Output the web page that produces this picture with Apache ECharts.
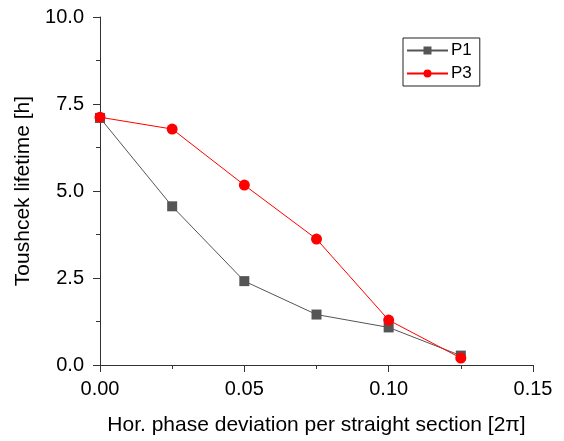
<!DOCTYPE html>
<html><head><meta charset="utf-8">
<script src="https://cdn.jsdelivr.net/npm/echarts@6/dist/echarts.min.js"></script>
<style>html,body{margin:0;padding:0;background:#fff}#c{width:564px;height:441px}</style>
</head><body><div id="c"></div>
<script>
const xValues = [0, 0.025, 0.05, 0.075, 0.1, 0.125];
const p1 = [7.1, 4.56, 2.41, 1.45, 1.08, 0.27];
const p3 = [7.12, 6.78, 5.17, 3.62, 1.29, 0.2];
const seriesNames = ['P1', 'P3'];
const xName = 'Hor. phase deviation per straight section [2π]';
const yName = 'Toushcek lifetime [h]';

const font = 'Liberation Sans, Arial, Helvetica, sans-serif';
const chart = echarts.init(document.getElementById('c'), null, {renderer: 'canvas'});
chart.setOption({
  animation: false,
  backgroundColor: '#fff',
  grid: {left: 100, right: 31, top: 17, bottom: 75, containLabel: false},
  legend: {
    left: 403, top: 38, orient: 'vertical',
    itemWidth: 41, itemHeight: 10, itemGap: 6,
    padding: [4, 8, 4, 3],
    borderColor: '#222', borderWidth: 1,
    textStyle: {fontFamily: font, fontSize: 17, color: '#000', padding: [0,0,0,-2]},
    data: seriesNames
  },
  xAxis: {
    type: 'value', min: 0, max: 0.15, interval: 0.05,
    name: xName, nameLocation: 'middle', nameGap: 50,
    nameTextStyle: {fontFamily: font, fontSize: 21, color: '#000'},
    axisLine: {show: true, onZero: false, lineStyle: {color: '#333', width: 1}},
    axisTick: {show: true, inside: false, length: 7, lineStyle: {color: '#333'}},
    minorTick: {show: true, splitNumber: 2, length: 4, lineStyle: {color: '#333'}},
    splitLine: {show: false},
    axisLabel: {fontFamily: font, fontSize: 20, color: '#000', margin: 14,
      formatter: v => v.toFixed(2)}
  },
  yAxis: {
    type: 'value', min: 0, max: 10, interval: 2.5,
    name: yName, nameLocation: 'middle', nameGap: 62, nameRotate: 90,
    nameTextStyle: {fontFamily: font, fontSize: 21, color: '#000'},
    axisLine: {show: true, onZero: false, lineStyle: {color: '#333', width: 1}},
    axisTick: {show: true, inside: false, length: 7, lineStyle: {color: '#333'}},
    minorTick: {show: true, splitNumber: 2, length: 4, lineStyle: {color: '#333'}},
    splitLine: {show: false},
    axisLabel: {fontFamily: font, fontSize: 20, color: '#000', margin: 16,
      formatter: v => v.toFixed(1)}
  },
  series: [
    {
      name: seriesNames[0], type: 'line',
      data: xValues.map((x, i) => [x, p1[i]]),
      symbol: 'rect', symbolSize: 10,
      itemStyle: {color: '#555'},
      lineStyle: {color: '#555', width: 1},
      z: 2
    },
    {
      name: seriesNames[1], type: 'line',
      data: xValues.map((x, i) => [x, p3[i]]),
      symbol: 'circle', symbolSize: 11,
      itemStyle: {color: '#ff0000'},
      lineStyle: {color: '#ff0000', width: 1},
      z: 3
    }
  ]
});
</script></body></html>
